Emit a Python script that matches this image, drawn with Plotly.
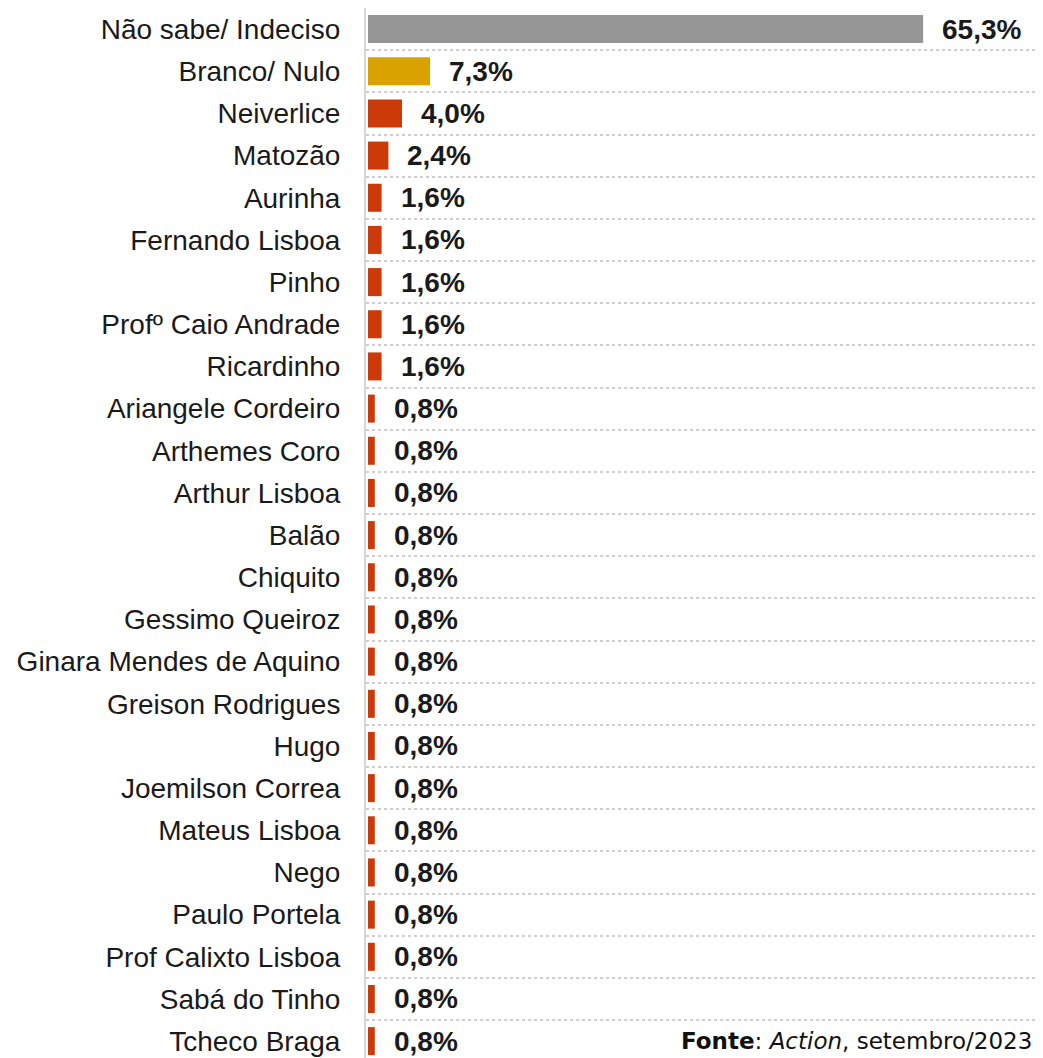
import plotly.graph_objects as go

# Dados da pesquisa (percentual de intenção de voto)
candidatos = [
    "Não sabe/ Indeciso", "Branco/ Nulo", "Neiverlice", "Matozão", "Aurinha",
    "Fernando Lisboa", "Pinho", "Profº Caio Andrade", "Ricardinho",
    "Ariangele Cordeiro", "Arthemes Coro", "Arthur Lisboa", "Balão", "Chiquito",
    "Gessimo Queiroz", "Ginara Mendes de Aquino", "Greison Rodrigues", "Hugo",
    "Joemilson Correa", "Mateus Lisboa", "Nego", "Paulo Portela",
    "Prof Calixto Lisboa", "Sabá do Tinho", "Tcheco Braga",
]
valores = [65.3, 7.3, 4.0, 2.4, 1.6, 1.6, 1.6, 1.6, 1.6,
           0.8, 0.8, 0.8, 0.8, 0.8, 0.8, 0.8, 0.8, 0.8,
           0.8, 0.8, 0.8, 0.8, 0.8, 0.8, 0.8]
rotulos = [f"{v:.1f}%".replace(".", ",") for v in valores]

# cores: cinza para indecisos, amarelo para branco/nulo, vermelho para candidatos
cores = []
for nome in candidatos:
    if nome == "Não sabe/ Indeciso":
        cores.append("#969696")
    elif nome == "Branco/ Nulo":
        cores.append("#d9a200")
    else:
        cores.append("#cc3a0a")

fig = go.Figure()
fig.add_trace(go.Bar(
    x=valores,
    y=candidatos,
    orientation="h",
    marker=dict(color=cores, line=dict(width=0)),
    hoverinfo="skip",
))

# rotulos de valor ao lado das barras
for nome, v, txt in zip(candidatos, valores, rotulos):
    fig.add_annotation(
        x=v, y=nome, xref="x", yref="y",
        text=f"<b>{txt}</b>", showarrow=False,
        xanchor="left", yanchor="middle", xshift=17,
        font=dict(family="Liberation Sans, Arial", size=28, color="#1a1a1a"),
    )

# fonte
fig.add_annotation(
    x=0.4625, y=0.016, xref="paper", yref="paper",
    text="<b>Fonte</b>: <i>Action</i>, setembro/2023",
    showarrow=False, xanchor="left", yanchor="middle",
    font=dict(family="DejaVu Sans", size=23, color="#111111"),
)

# a página tem margem de 8px no body, por isso o deslocamento nas margens
fig.update_layout(
    width=1043,
    height=1058,
    margin=dict(l=358, r=8, t=0, b=8),
    paper_bgcolor="white",
    plot_bgcolor="white",
    bargap=0.335,
    showlegend=False,
    xaxis=dict(
        range=[-0.235, 79.4],
        showgrid=False,
        zeroline=False,
        showticklabels=False,
        fixedrange=True,
    ),
    yaxis=dict(
        type="category",
        categoryorder="array",
        categoryarray=candidatos,
        range=[24.4, -0.5],
        tickson="boundaries",
        showgrid=True,
        gridcolor="#cfcfcf",
        gridwidth=2,
        griddash="dot",
        showline=True,
        linecolor="#d6d6d6",
        linewidth=2,
        ticks="",
        ticklabelstandoff=18,
        tickfont=dict(family="Liberation Sans, Arial", size=28, color="#1a1a1a"),
    ),
)

fig.write_html("out.html")
